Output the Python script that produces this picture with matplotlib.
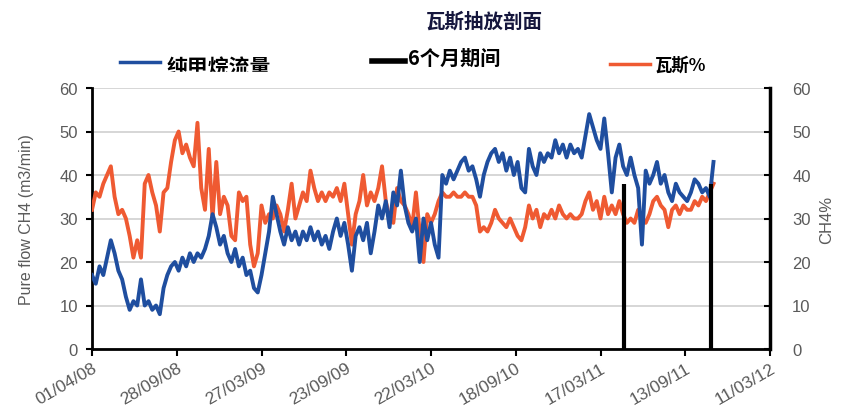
import pandas as pd
import matplotlib
matplotlib.use('Agg')
import matplotlib.pyplot as plt
import matplotlib.dates as mdates
from matplotlib.lines import Line2D
from matplotlib.patches import Rectangle

plt.rcParams['font.family'] = ['Liberation Sans', 'Noto Sans CJK SC', 'DejaVu Sans']

# daily logger readings, thinned to one value every 8 days from 01/04/08
start_date = '2008-04-01'
sample_step = '8D'

pure_flow = [17, 15, 19, 17, 21, 25, 22, 18, 16, 12,
             9, 11, 10, 16, 10, 11, 9, 10, 8, 14,
             17, 19, 20, 18, 21, 19, 22, 20, 22, 21,
             23, 26, 31, 28, 24, 26, 22, 20, 23, 19,
             21, 17, 18, 14, 13, 17, 22, 27, 35, 31,
             27, 24, 28, 25, 27, 24, 27, 25, 28, 25,
             27, 24, 26, 23, 27, 30, 26, 29, 24, 18,
             26, 28, 25, 29, 22, 27, 33, 30, 34, 28,
             36, 33, 41, 33, 29, 27, 30, 20, 30, 25,
             29, 24, 21, 40, 38, 41, 39, 41, 43, 44,
             41, 42, 39, 35, 40, 43, 45, 46, 43, 45,
             41, 44, 40, 43, 37, 36, 46, 42, 40, 45,
             43, 45, 44, 48, 45, 47, 44, 47, 45, 46,
             44, 49, 54, 51, 48, 46, 53, 45, 36, 44,
             47, 42, 40, 44, 40, 37, 24, 41, 38, 40,
             43, 38, 40, 36, 34, 38, 36, 35, 34, 36,
             39, 38, 36, 37, 35, 43]

ch4_pct = [32, 36, 35, 38, 40, 42, 35, 31, 32, 30,
           26, 21, 25, 21, 38, 40, 36, 33, 27, 36,
           37, 43, 48, 50, 45, 47, 44, 42, 52, 37,
           32, 46, 30, 43, 31, 35, 33, 26, 25, 36,
           34, 35, 24, 19, 22, 33, 29, 31, 30, 33,
           31, 27, 32, 38, 30, 33, 36, 34, 41, 37,
           34, 36, 34, 36, 35, 37, 34, 38, 31, 24,
           31, 34, 40, 33, 36, 34, 37, 42, 34, 30,
           29, 37, 34, 33, 31, 28, 36, 27, 20, 31,
           29, 31, 34, 36, 35, 35, 36, 35, 35, 36,
           35, 35, 33, 27, 28, 27, 29, 32, 30, 29,
           28, 30, 28, 26, 25, 28, 33, 30, 32, 28,
           31, 30, 32, 30, 33, 31, 30, 31, 30, 30,
           31, 34, 36, 32, 34, 30, 35, 31, 33, 31,
           34, 31, 29, 30, 29, 32, 30, 29, 31, 34,
           35, 33, 32, 28, 32, 33, 31, 33, 32, 32,
           34, 33, 35, 34, 36, 38]

# start and end of the 6-month comparison window
period_dates = ['2011-05-06', '2011-11-07']
period_level = [38, 38]

tick_labels = ['01/04/08', '28/09/08', '27/03/09', '23/09/09', '22/03/10',
               '18/09/10', '17/03/11', '13/09/11', '11/03/12']

blue = '#1f4e9f'
orange = '#ef5a32'
grey = '#5a5a5a'

flow_dates = pd.date_range(start_date, periods=len(pure_flow), freq=sample_step)
ch4_dates = pd.date_range(start_date, periods=len(ch4_pct), freq=sample_step)
ticks = pd.to_datetime(tick_labels, format='%d/%m/%y')

W, H = 842, 410
fig = plt.figure(figsize=(W / 100, H / 100), dpi=100)
ax = fig.add_axes([92 / W, 1 - 350 / H, (770 - 92) / W, (350 - 89) / H])

ax.plot(ch4_dates, ch4_pct, color=orange, lw=2.8, zorder=3)
ax.plot(flow_dates, pure_flow, color=blue, lw=2.8, zorder=4)
ax.vlines(pd.to_datetime(period_dates), 0, period_level, color='black', lw=3, zorder=5)

ax.set_xlim(ticks[0], ticks[-1])
ax.set_ylim(0, 60)
ax.set_yticks(range(0, 61, 10))
ax.set_xticks(ticks)
ax.xaxis.set_major_formatter(mdates.DateFormatter('%d/%m/%y'))
ax.grid(axis='y', color='#cfcfcf', lw=1.2)
ax.set_axisbelow(True)

for side in ['left', 'bottom']:
    ax.spines[side].set_linewidth(2)
ax.spines['top'].set_visible(False)
ax.spines['right'].set_visible(False)

ax.tick_params(axis='y', direction='out', length=4, width=1.5, pad=6,
               labelsize=12, labelcolor=grey)
ax.tick_params(axis='x', direction='out', length=5, width=1.5, pad=3,
               labelsize=12.5, labelcolor=grey)
for lbl in ax.get_xticklabels():
    lbl.set_rotation(30)
    lbl.set_ha('right')
    lbl.set_va('top')
    lbl.set_rotation_mode('anchor')
ax.set_ylabel('Pure flow CH4 (m3/min)', fontsize=11.5, color=grey, labelpad=18)

ax2 = ax.twinx()
ax2.set_ylim(0, 60)
ax2.set_yticks(range(0, 61, 10))
for side in ['left', 'bottom', 'top']:
    ax2.spines[side].set_visible(False)
ax2.spines['right'].set_linewidth(2.5)
ax2.tick_params(axis='y', direction='in', length=4, width=1.5, pad=16,
                labelsize=12, labelcolor=grey)
ax2.set_ylabel('CH4%', fontsize=12, color=grey, labelpad=6)


def fx(x):
    return x / W


def fy(y):
    return 1 - y / H


cjk = ['Noto Sans CJK SC', 'DejaVu Sans']

fig.text(fx(484), fy(22), '瓦斯抽放剖面', family=cjk, fontsize=14,
         weight='bold', color='#15163d', ha='center', va='center')

fig.add_artist(Line2D([fx(120), fx(160)], [fy(63), fy(63)], color=blue, lw=2.5))
fig.text(fx(167), fy(68), '纯甲烷流量', family=cjk, fontsize=15,
         weight='bold', color='black', ha='left', va='center')
# the legend box cuts off the bottom of this label
fig.add_artist(Rectangle((fx(160), fy(84)), fx(125), 11 / H, color='white', zorder=10))

fig.add_artist(Line2D([fx(372), fx(405)], [fy(62), fy(62)], color='black', lw=4))
fig.text(fx(408), fy(58), '6个月期间', family=cjk, fontsize=14.5,
         weight='bold', color='black', ha='left', va='center')

fig.add_artist(Line2D([fx(610), fx(650)], [fy(65), fy(65)], color=orange, lw=2.5))
fig.text(fx(655), fy(66), '瓦斯%', family=cjk, fontsize=12.5,
         weight='bold', color='black', ha='left', va='center')

fig.savefig('out.png', dpi=100, facecolor='white')
